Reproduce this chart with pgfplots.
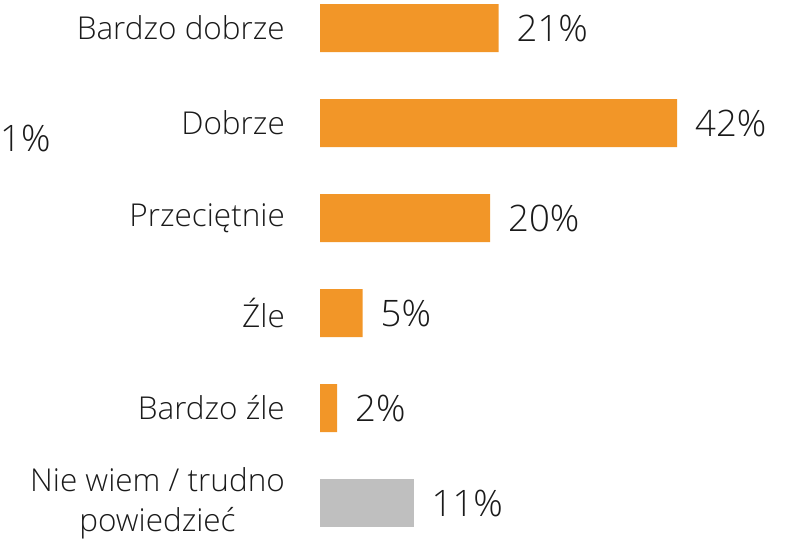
\documentclass[border=0pt]{standalone}
\usepackage{fontspec}
\setmainfont{Open Sans Light}
\usepackage{pgfplots}
\pgfplotsset{compat=1.18}
\definecolor{barorange}{RGB}{242,150,40}
\definecolor{bargray}{RGB}{191,191,191}
\definecolor{txt}{RGB}{26,26,26}
\begin{document}
\begin{tikzpicture}
\path[use as bounding box] (0,0) rectangle (791pt,542pt);
\begin{axis}[
  at={(320pt,0pt)}, anchor=south west,
  scale only axis, width=471pt, height=542pt,
  xmin=0, xmax=55.41, ymin=-0.295, ymax=5.41, y dir=reverse,
  xbar, bar width=48pt, bar shift=0pt,
  axis line style={draw=none}, tick style={draw=none},
  xtick=\empty, major tick length=0pt,
  ytick={0,...,5},
  yticklabels={Bardzo dobrze, Dobrze, Przeciętnie, Źle, Bardzo źle, {Nie wiem / trudno\\powiedzieć}},
  yticklabel style={font=\fontsize{31.5}{40}\selectfont, text=txt, inner sep=0pt, xshift=-35pt, align=center},
  /pgf/number format/assume math mode=true,
  nodes near coords={\pgfmathprintnumber{\pgfplotspointmeta}\%},
  nodes near coords style={font=\fontsize{36.5}{40}\selectfont, text=txt, anchor=west, xshift=18pt, inner sep=0pt},
  clip=false,
]
\addplot[fill=barorange, draw=none] coordinates {(21,0) (42,1) (20,2) (5,3) (2,4)};
\addplot[fill=bargray, draw=none] coordinates {(11,5)};
\end{axis}
\node[anchor=west, inner sep=0pt, text=txt, font=\fontsize{36.5}{40}\selectfont] at (0pt,404pt) {1\%};
\end{tikzpicture}
\end{document}
